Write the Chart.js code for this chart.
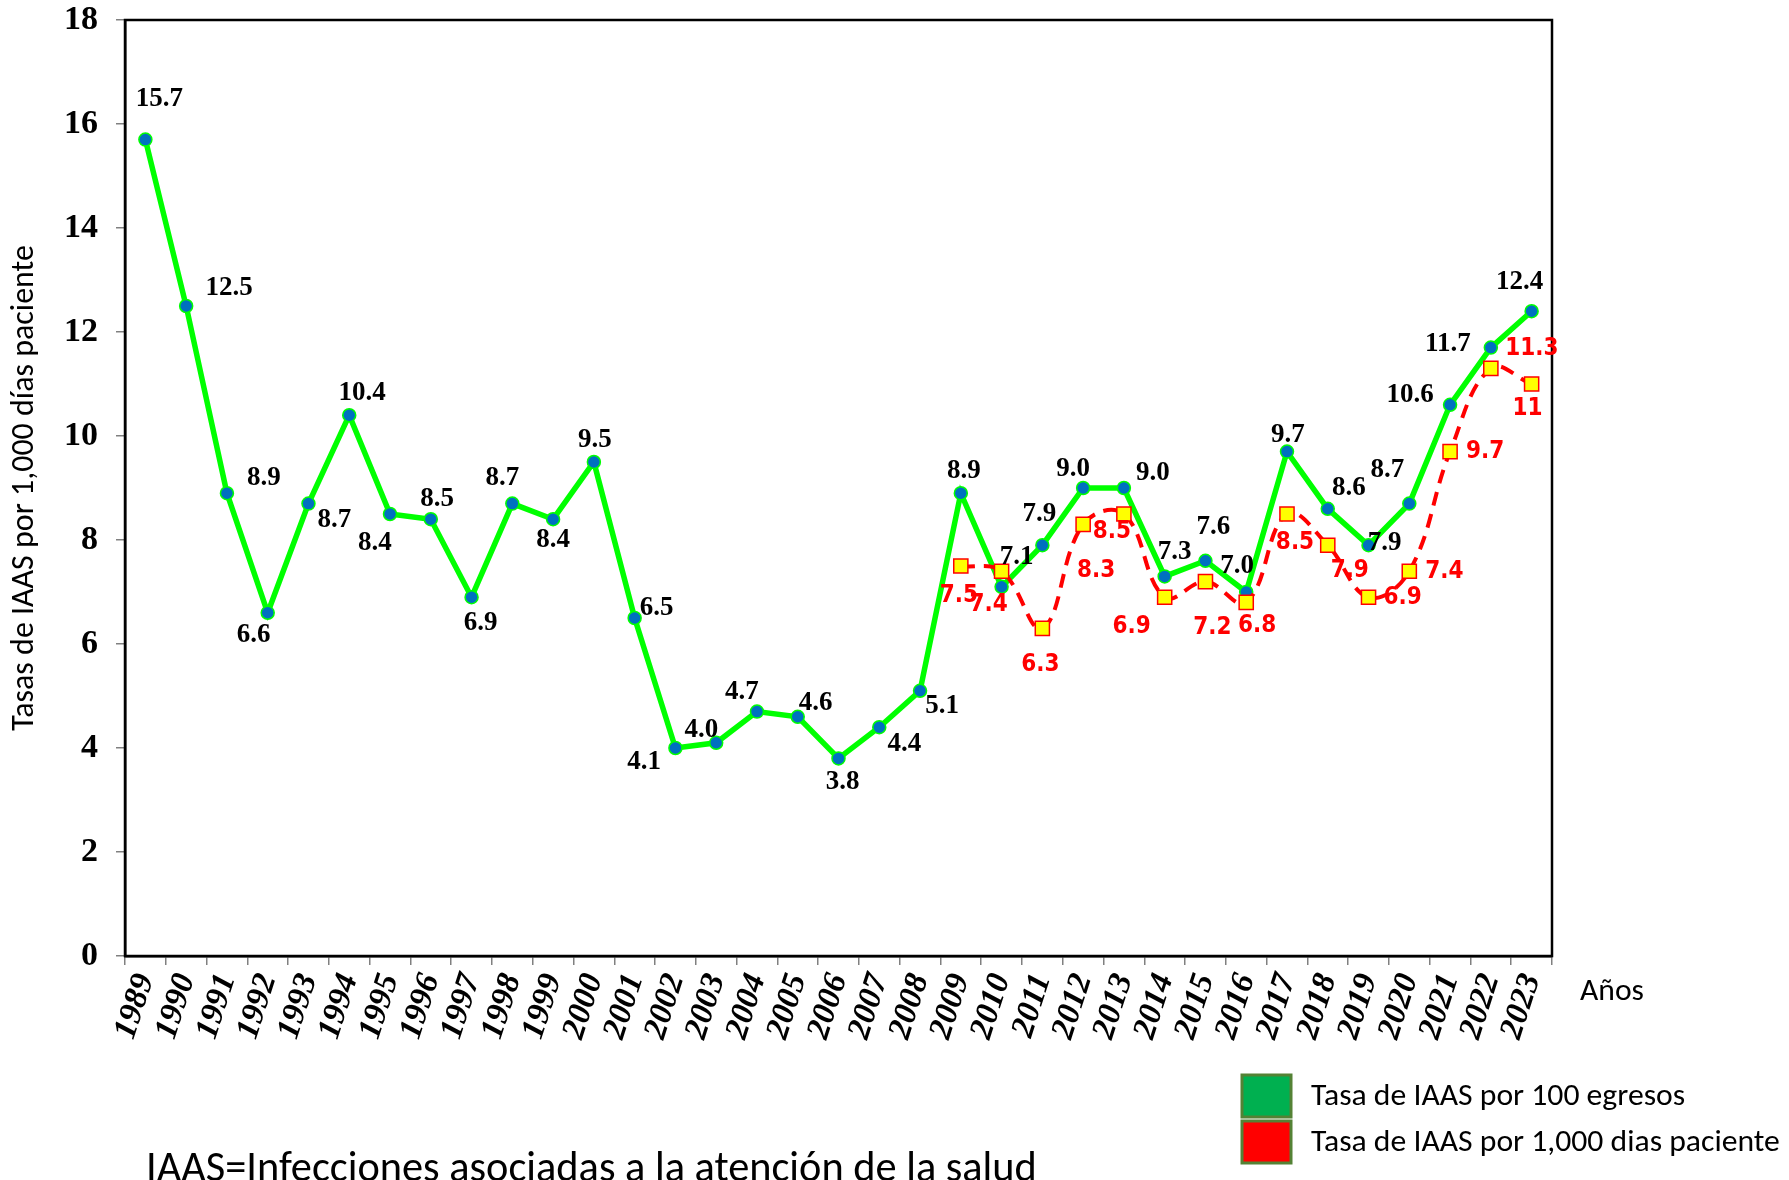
<!DOCTYPE html>
<html lang="es">
<head>
<meta charset="utf-8">
<title>Tasas de IAAS 1989-2023</title>
<script src="https://cdn.jsdelivr.net/npm/chart.js@4.4.1/dist/chart.umd.min.js"></script>
<style>
  html, body { margin: 0; padding: 0; background: #fff; }
  #wrap { position: relative; width: 1789px; height: 1180px; }
</style>
</head>
<body>
<div id="wrap"><canvas id="chart"></canvas></div>
<script>
// Years on the x axis
const years = ["1989","1990","1991","1992","1993","1994","1995","1996","1997","1998",
  "1999","2000","2001","2002","2003","2004","2005","2006","2007","2008",
  "2009","2010","2011","2012","2013","2014","2015","2016","2017","2018",
  "2019","2020","2021","2022","2023"];

// Tasa de IAAS por 100 egresos
const tasaEgresos = [15.7, 12.5, 8.9, 6.6, 8.7, 10.4, 8.5, 8.4, 6.9, 8.7,
  8.4, 9.5, 6.5, 4.0, 4.1, 4.7, 4.6, 3.8, 4.4, 5.1,
  8.9, 7.1, 7.9, 9.0, 9.0, 7.3, 7.6, 7.0, 9.7, 8.6,
  7.9, 8.7, 10.6, 11.7, 12.4];

// Tasa de IAAS por 1,000 dias paciente (only measured from 2009)
const tasaDiasPaciente = [null, null, null, null, null, null, null, null, null, null,
  null, null, null, null, null, null, null, null, null, null,
  7.5, 7.4, 6.3, 8.3, 8.5, 6.9, 7.2, 6.8, 8.5, 7.9,
  6.9, 7.4, 9.7, 11.3, 11];

const yTicks = [0, 2, 4, 6, 8, 10, 12, 14, 16, 18];

// where each value label sits, in px from its point
const offEgresos = [[14,-41],[43,-18],[37,-15],[-14,22],[26,16],[13,-22],[47,-15],[-56,24],[9,26],[-10,-26],
  [0,21],[1,-22],[22,-10],[26,-18],[-72,19],[-15,-20],[18,-14],[4,24],[25,17],[22,15],
  [3,-22],[15,-30],[-3,-31],[-10,-19],[29,-15],[10,-24],[8,-34],[-9,-26],[1,-17],[21,-21],
  [16,-2],[-22,-34],[-40,-10],[-43,-4],[-12,-29]];
const offDias = [null,null,null,null,null,null,null,null,null,null,
  null,null,null,null,null,null,null,null,null,null,
  [-2,30],[-13,34],[-2,36],[13,46],[-12,18],[-33,30],[7,46],[11,23],[8,29],[22,26],
  [34,1],[35,1],[35,0],[41,-20],[-4,25]];

const SERIF = '"Liberation Serif", "Times New Roman", serif';
const SANS = 'Carlito, Lato, "Open Sans", sans-serif';
const NARROW = '"Liberation Sans Narrow", "DejaVu Sans Condensed", "Liberation Sans", sans-serif';

// font size that makes a text span a given width
function fitSize(text, family, width) {
  const c = document.createElement("canvas").getContext("2d");
  c.font = "100px " + family;
  return 100 * width / c.measureText(text).width;
}

const yTitle = "Tasas de IAAS por 1,000 días paciente";
const legendColors = [["#00B050", "#548235"], ["#FF0000", "#548235"]];
const footnote = "IAAS=Infecciones asociadas a la atención de la salud";

const frame = {
  id: "frame",
  beforeDatasetsDraw(chart) {
    const { ctx, chartArea: a } = chart;
    ctx.save();
    ctx.strokeStyle = "#000";
    ctx.lineWidth = 2.5;
    ctx.strokeRect(a.left, a.top, a.right - a.left, a.bottom - a.top);
    ctx.restore();
  }
};

const pointLabels = {
  id: "pointLabels",
  afterDatasetsDraw(chart) {
    const ctx = chart.ctx;
    chart.data.datasets.forEach((ds, di) => {
      const meta = chart.getDatasetMeta(di);
      ctx.save();
      ctx.font = ds.labelFont;
      ctx.fillStyle = ds.labelColor;
      ctx.textAlign = "center";
      ctx.textBaseline = "middle";
      meta.data.forEach((pt, i) => {
        const v = ds.data[i];
        if (v == null) return;
        const [dx, dy] = ds.labelOffsets[i];
        ctx.fillText(ds.labelText(v), pt.x + dx, pt.y + dy);
      });
      ctx.restore();
    });
  }
};

const extras = {
  id: "extras",
  afterDraw(chart) {
    const ctx = chart.ctx;
    ctx.save();
    ctx.fillStyle = "#000";
    ctx.textAlign = "left";
    ctx.textBaseline = "alphabetic";

    ctx.font = fitSize("Años", SANS, 64) + "px " + SANS;
    ctx.fillText("Años", 1580, 1000);

    // legend
    const lgSize = fitSize(chart.data.datasets[1].label, SANS, 469);
    ctx.font = lgSize + "px " + SANS;
    chart.data.datasets.forEach((ds, i) => {
      const y = 1075 + i * 46;
      ctx.fillStyle = legendColors[i][0];
      ctx.fillRect(1242, y, 49, 42);
      ctx.strokeStyle = legendColors[i][1];
      ctx.lineWidth = 3;
      ctx.strokeRect(1242, y, 49, 42);
      ctx.fillStyle = "#000";
      ctx.fillText(ds.label, 1311, y + 30);
    });

    ctx.font = fitSize(footnote, SANS, 891) + "px " + SANS;
    ctx.fillText(footnote, 146, 1181);
    ctx.restore();
  }
};

new Chart(document.getElementById("chart"), {
  type: "line",
  data: {
    labels: years,
    datasets: [
      {
        label: "Tasa de IAAS por 100 egresos",
        data: tasaEgresos,
        order: 2,
        borderColor: "#00FF00",
        borderWidth: 5.5,
        tension: 0,
        pointRadius: 6.5,
        pointBackgroundColor: "#0070C0",
        pointBorderColor: "#00FF00",
        pointBorderWidth: 1.5,
        labelFont: "bold 27px " + SERIF,
        labelColor: "#000",
        labelOffsets: offEgresos,
        labelText: v => v.toFixed(1)
      },
      {
        label: "Tasa de IAAS por 1,000 dias paciente",
        data: tasaDiasPaciente,
        order: 1,
        borderColor: "#FF0000",
        borderWidth: 4,
        borderDash: [14, 9],
        tension: 0.4,
        pointStyle: "rect",
        pointRadius: 10,
        pointBackgroundColor: "#FFFF00",
        pointBorderColor: "#FF0000",
        pointBorderWidth: 1.5,
        labelFont: "bold 24px " + NARROW,
        labelColor: "#FF0000",
        labelOffsets: offDias,
        labelText: v => String(v)
      }
    ]
  },
  options: {
    responsive: true,
    maintainAspectRatio: false,
    devicePixelRatio: 1,
    animation: false,
    layout: { padding: { left: 0, top: 20, right: 237, bottom: 134 } },
    plugins: { legend: { display: false }, tooltip: { enabled: false } },
    scales: {
      x: {
        type: "category",
        offset: true,
        afterFit: s => { s.height = 90; },
        grid: { offset: true, drawOnChartArea: false, tickLength: 9, color: "#808080", lineWidth: 1.5 },
        border: { color: "#000", width: 2.5 },
        ticks: {
          autoSkip: false, minRotation: 72, maxRotation: 72, padding: 4, color: "#000",
          font: { family: SERIF, size: 33, weight: "bold", style: "italic" }
        }
      },
      y: {
        min: 0, max: 18,
        // fixed width; the plot frame is placed by the layout padding alone
        afterFit: s => { s.width = 125; s.paddingTop = 0; s.paddingBottom = 0; },
        afterBuildTicks: s => { s.ticks = yTicks.map(v => ({ value: v })); },
        grid: { drawOnChartArea: false, tickLength: 9, color: "#808080", lineWidth: 1.5 },
        border: { color: "#000", width: 2.5 },
        ticks: { padding: 18, color: "#000", font: { family: SERIF, size: 34, weight: "bold" } },
        title: {
          display: true,
          text: yTitle,
          color: "#000",
          padding: { top: 6, bottom: 0 },
          font: { family: SANS, size: fitSize(yTitle, SANS, 486), weight: "normal" }
        }
      }
    }
  },
  plugins: [frame, pointLabels, extras]
});
</script>
</body>
</html>
